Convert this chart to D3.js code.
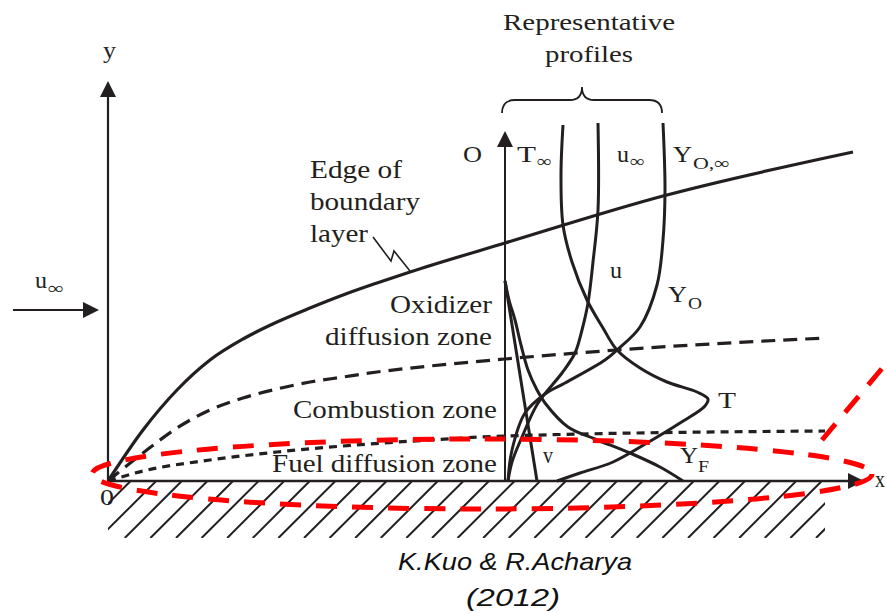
<!DOCTYPE html>
<meta charset="utf-8">
<style>
body{margin:0;background:#fff;}
svg text{font-family:"Liberation Serif","Times New Roman",serif;fill:#231f20;}
svg text.cite{font-family:"Liberation Sans",Arial,sans-serif;font-style:italic;fill:#111;}
</style>
<body>
<script src="https://d3js.org/d3.v7.min.js"></script>
<script>
// zone boundaries, [distance along plate, height above plate]
var edgeOfLayer = [[0,0],[35,51],[69,91],[102,121],[135,142],[169,159],[202,173],[235,186],[269,198],[302,209],[397,238],[555,285],[745,329]];
var flameUpper  = [[0,0],[35,28],[69,53],[102,71],[135,83],[169,92],[202,99],[235,104],[269,109],[322,115],[397,122],[509,131],[717,143]];
var flameLower  = [[0,0],[35,10],[102,21],[169,29],[235,35],[322,41],[397,45],[717,50]];

// representative profiles at the station x = 397
var profileT  = [[455,356],[453,306],[455,256],[464,219],[479,181],[495,153],[509,131],[532,113],[559,99],[589,89],[600,82],[597,75],[572,58],[539,38],[505,19],[472,8],[449,0]];
var profileU  = [[490,358],[490,271],[485,219],[480,178],[474,151],[467,128],[454,108],[430,78],[414,44],[404,19],[400,0]];
var profileYO = [[555,358],[557,291],[555,241],[549,196],[532,154],[509,131],[497,121],[457,98],[437,87],[417,68],[404,31],[400,0]];
var profileYF = [[397,200],[401,181],[407,161],[413,136],[420,111],[429,91],[437,78],[460,54],[487,42],[522,28],[552,14],[575,0]];
var profileV  = [[397,200],[429,0]];
var station = 397;

var w = 887, h = 614;
var ink = "#231f20";

var svg = d3.select("body").append("svg")
  .attr("width", w)
  .attr("height", h);

var x = d3.scaleLinear().domain([0, 760]).range([108, 868]);
var y = d3.scaleLinear().domain([0, 400]).range([481, 81]);

var defs = svg.append("defs");
defs.append("marker")
  .attr("id", "arrow")
  .attr("viewBox", "0 -8 16 16")
  .attr("refX", 14)
  .attr("refY", 0)
  .attr("markerWidth", 16)
  .attr("markerHeight", 16)
  .attr("markerUnits", "userSpaceOnUse")
  .attr("orient", "auto")
  .append("path")
  .attr("d", "M0,-8L16,0L0,8Z")
  .attr("fill", ink);

defs.append("clipPath")
  .attr("id", "wallclip")
  .append("rect")
  .attr("x", x(0))
  .attr("y", y(0))
  .attr("width", x(717) - x(0))
  .attr("height", 57);

// hatched wall
var hatch = svg.append("g").attr("clip-path", "url(#wallclip)");
hatch.selectAll("line")
  .data(d3.range(x(0) - 60, x(717) + 10, 25.6))
  .enter().append("line")
  .attr("x1", function(d) { return d; })
  .attr("y1", y(0) + 57)
  .attr("x2", function(d) { return d + 57; })
  .attr("y2", y(0))
  .attr("stroke", ink)
  .attr("stroke-width", 2);

var line = d3.line()
  .x(function(d) { return x(d[0]); })
  .y(function(d) { return y(d[1]); });

// axes
svg.append("line")
  .attr("x1", x(0)).attr("y1", y(0))
  .attr("x2", x(754)).attr("y2", y(0))
  .attr("stroke", ink).attr("stroke-width", 2.4)
  .attr("marker-end", "url(#arrow)");
svg.append("line")
  .attr("x1", x(0)).attr("y1", y(0))
  .attr("x2", x(0)).attr("y2", y(398))
  .attr("stroke", ink).attr("stroke-width", 2.2)
  .attr("marker-end", "url(#arrow)");
svg.append("line")
  .attr("x1", x(-95)).attr("y1", y(171))
  .attr("x2", x(-11)).attr("y2", y(171))
  .attr("stroke", ink).attr("stroke-width", 2.2)
  .attr("marker-end", "url(#arrow)");
svg.append("line")
  .attr("x1", x(station)).attr("y1", y(0))
  .attr("x2", x(station)).attr("y2", y(348))
  .attr("stroke", ink).attr("stroke-width", 2)
  .attr("marker-end", "url(#arrow)");

// zone boundaries
svg.append("path")
  .attr("d", line.curve(d3.curveMonotoneX)(edgeOfLayer))
  .attr("fill", "none").attr("stroke", ink).attr("stroke-width", 3.2);
svg.append("path")
  .attr("d", line.curve(d3.curveMonotoneX)(flameUpper))
  .attr("fill", "none").attr("stroke", ink).attr("stroke-width", 3.2)
  .attr("stroke-dasharray", "14 8");
svg.append("path")
  .attr("d", line.curve(d3.curveMonotoneX)(flameLower))
  .attr("fill", "none").attr("stroke", ink).attr("stroke-width", 3.2)
  .attr("stroke-dasharray", "8 6");

// profiles
[profileT, profileU, profileYO, profileYF, profileV].forEach(function(p) {
  svg.append("path")
    .attr("d", line.curve(d3.curveCatmullRom.alpha(0.5))(p))
    .attr("fill", "none")
    .attr("stroke", ink)
    .attr("stroke-width", 3)
    .attr("stroke-linejoin", "round");
});

// brace over the profiles
svg.append("path")
  .attr("d", "M502,113 Q502,100 515,100 L570,100 Q582,100 582,87 Q582,100 594,100 L649,100 Q662,100 662,113")
  .attr("fill", "none").attr("stroke", ink).attr("stroke-width", 1.8);

// pointer to edge of boundary layer
svg.append("polyline")
  .attr("points", "373,237 391,261 394,251 410,271")
  .attr("fill", "none").attr("stroke", ink).attr("stroke-width", 1.6);

// red highlight
svg.append("ellipse")
  .attr("cx", 482).attr("cy", 474)
  .attr("rx", 390).attr("ry", 35)
  .attr("fill", "none")
  .attr("stroke", "#ff0000")
  .attr("stroke-width", 5)
  .attr("stroke-dasharray", "21 15");
svg.append("line")
  .attr("x1", 822).attr("y1", 440)
  .attr("x2", 905).attr("y2", 341)
  .attr("stroke", "#ff0000")
  .attr("stroke-width", 5)
  .attr("stroke-dasharray", "21 15");

// labels
function label(t, px, py, size, len, anchor, cls) {
  var el = svg.append("text")
    .attr("x", px).attr("y", py)
    .style("font-size", size + "px")
    .attr("text-anchor", anchor || "start")
    .text(t);
  if (len) el.attr("textLength", len).attr("lengthAdjust", "spacingAndGlyphs");
  if (cls) el.attr("class", cls);
  return el;
}

label("Representative", 503, 30, 24, 172);
label("profiles", 545, 62, 24, 88);
label("O", 463, 162, 24, 19);
label("T", 517, 162, 24, 19);
label("\u221e", 537, 167, 17, 15);
label("u", 617, 162, 24, 12);
label("\u221e", 630, 167, 17, 15);
label("Y", 673, 162, 24, 19);
label("O,\u221e", 693, 169, 17, 37);

label("Edge of", 310, 178, 25, 92);
label("boundary", 310, 210, 25, 110);
label("layer", 310, 242, 25, 58);

label("Oxidizer", 390, 313, 25, 102);
label("diffusion zone", 325, 345, 25, 167);
label("Combustion zone", 293, 418, 25, 204);
label("Fuel diffusion zone", 272, 472, 25, 225);

label("u", 610, 278, 24, 12);
label("Y", 668, 302, 24, 19);
label("O", 688, 309, 17, 14);
label("T", 718, 408, 24, 18);
label("v", 543, 463, 24, 10);
label("Y", 680, 463, 24, 18);
label("F", 698, 472, 17, 11);

label("0", 100, 505, 24, 14);
label("x", 875, 487, 24, 10);
label("y", 103, 58, 24, 13);
label("u", 35, 288, 24, 12);
label("\u221e", 48, 294, 17, 16);

label("K.Kuo & R.Acharya", 515, 570, 24, 234, "middle", "cite");
label("(2012)", 513, 606, 24, 94, "middle", "cite");
</script>
</body>
